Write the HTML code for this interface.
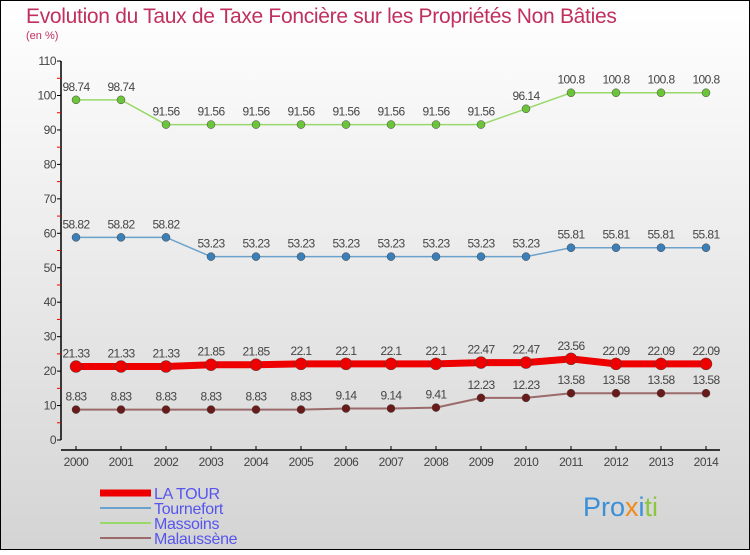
<!DOCTYPE html>
<html><head><meta charset="utf-8"><style>
body{margin:0;width:750px;height:550px;overflow:hidden}
svg text{font-family:"Liberation Sans","DejaVu Sans",sans-serif}
</style></head><body>
<svg id="c" width="750" height="550" xmlns="http://www.w3.org/2000/svg">
<defs><linearGradient id="bg" x1="0" y1="0" x2="0" y2="1"><stop offset="0" stop-color="#ffffff"/><stop offset="1" stop-color="#d4d4d4"/></linearGradient></defs>
<rect x="0.5" y="0.5" width="749" height="549" fill="url(#bg)" stroke="#000"/>
<text x="26" y="23" font-size="21" fill="#c0305e" style="letter-spacing:-0.3px">Evolution du Taux de Taxe Foncière sur les Propriétés Non Bâties</text>
<text x="26" y="39" font-size="11" fill="#c0305e">(en %)</text>
<g id="axes"></g>
<g id="series"></g>
<g id="legend"></g>
<text x="583" y="516" font-size="27"><tspan fill="#3a8fd8">Pro</tspan><tspan fill="#f08a1c">x</tspan><tspan fill="#3a8fd8">i</tspan><tspan fill="#8cc63f">ti</tspan></text>
</svg>
<script>
const years=[2000,2001,2002,2003,2004,2005,2006,2007,2008,2009,2010,2011,2012,2013,2014];
const yTicks=[0,10,20,30,40,50,60,70,80,90,100,110];
const laTour=[21.33,21.33,21.33,21.85,21.85,22.1,22.1,22.1,22.1,22.47,22.47,23.56,22.09,22.09,22.09];
const tournefort=[58.82,58.82,58.82,53.23,53.23,53.23,53.23,53.23,53.23,53.23,53.23,55.81,55.81,55.81,55.81];
const massoins=[98.74,98.74,91.56,91.56,91.56,91.56,91.56,91.56,91.56,91.56,96.14,100.8,100.8,100.8,100.8];
const malaussene=[8.83,8.83,8.83,8.83,8.83,8.83,9.14,9.14,9.41,12.23,12.23,13.58,13.58,13.58,13.58];
const seriesNames=["LA TOUR","Tournefort","Massoins","Malaussène"];
const NS="http://www.w3.org/2000/svg";
const X=i=>76+i*45, Y=v=>440-v*3.445;
function mk(t,a,p){const e=document.createElementNS(NS,t);for(const k in a)e.setAttribute(k,a[k]);p.appendChild(e);return e;}
const ax=document.getElementById('axes');
let yl=mk('line',{x1:61,y1:Y(110),x2:61,y2:440,stroke:'#000','stroke-width':1.5},ax);

yTicks.forEach(v=>{mk('line',{x1:57,y1:Y(v),x2:61,y2:Y(v),stroke:'#000'},ax);
 if(v<110)mk('line',{x1:57,y1:Y(v+5),x2:61,y2:Y(v+5),stroke:'#e00'},ax);
 const t=mk('text',{x:56,y:Y(v)+4,'text-anchor':'end','font-size':12,fill:'#444','letter-spacing':'-0.5'},ax);t.textContent=v;
 });
let xl=mk('line',{x1:61,y1:450,x2:720,y2:450,stroke:'#000','stroke-width':1.5},ax);

years.forEach((y,i)=>{mk('line',{x1:X(i),y1:446,x2:X(i),y2:450,stroke:'#000'},ax);
 const t=mk('text',{x:X(i),y:466,'text-anchor':'middle','font-size':12,fill:'#444','letter-spacing':'-0.5'},ax);t.textContent=y;
 });
const sg=document.getElementById('series');
const defs=[[malaussene,'#9b6a6a','#6b1a1a',2,4,'malaussene'],[tournefort,'#6aa2cc','#3a7fb8',1.5,4,'tournefort'],[massoins,'#99d96b','#6cc43a',1.5,4,'massoins'],[laTour,'#ee0000','#ee0000',7,6,'la-tour']];
defs.forEach(([d,lc,pc,w,r,n])=>{
 const g=mk('g',{},sg);
 mk('polyline',{points:d.map((v,i)=>X(i)+','+Y(v)).join(' '),fill:'none',stroke:lc,'stroke-width':w},g);
 d.forEach((v,i)=>{const c=mk('circle',{cx:X(i),cy:Y(v),r:r,fill:pc,stroke:'#444','stroke-width':0.5},g);
  
  const t=mk('text',{x:X(i),y:Y(v)-9,'text-anchor':'middle','font-size':12,fill:'#444','letter-spacing':'-0.6'},g);t.textContent=v;
  });
});
const lg=document.getElementById('legend');
const lcols=['#ee0000','#6aa2cc','#99d96b','#9b6a6a'],lw=[7,2,2,2];
seriesNames.forEach((s,i)=>{const y=493+i*15;
 const g=mk('g',{},lg);
 mk('line',{x1:100,y1:y,x2:151,y2:y,stroke:lcols[i],'stroke-width':lw[i]},g);
 const t=mk('text',{x:154,y:y+6,'font-size':16,fill:'#5555ee','letter-spacing':'-0.3'},g);t.textContent=s;});
</script>
</body></html>
